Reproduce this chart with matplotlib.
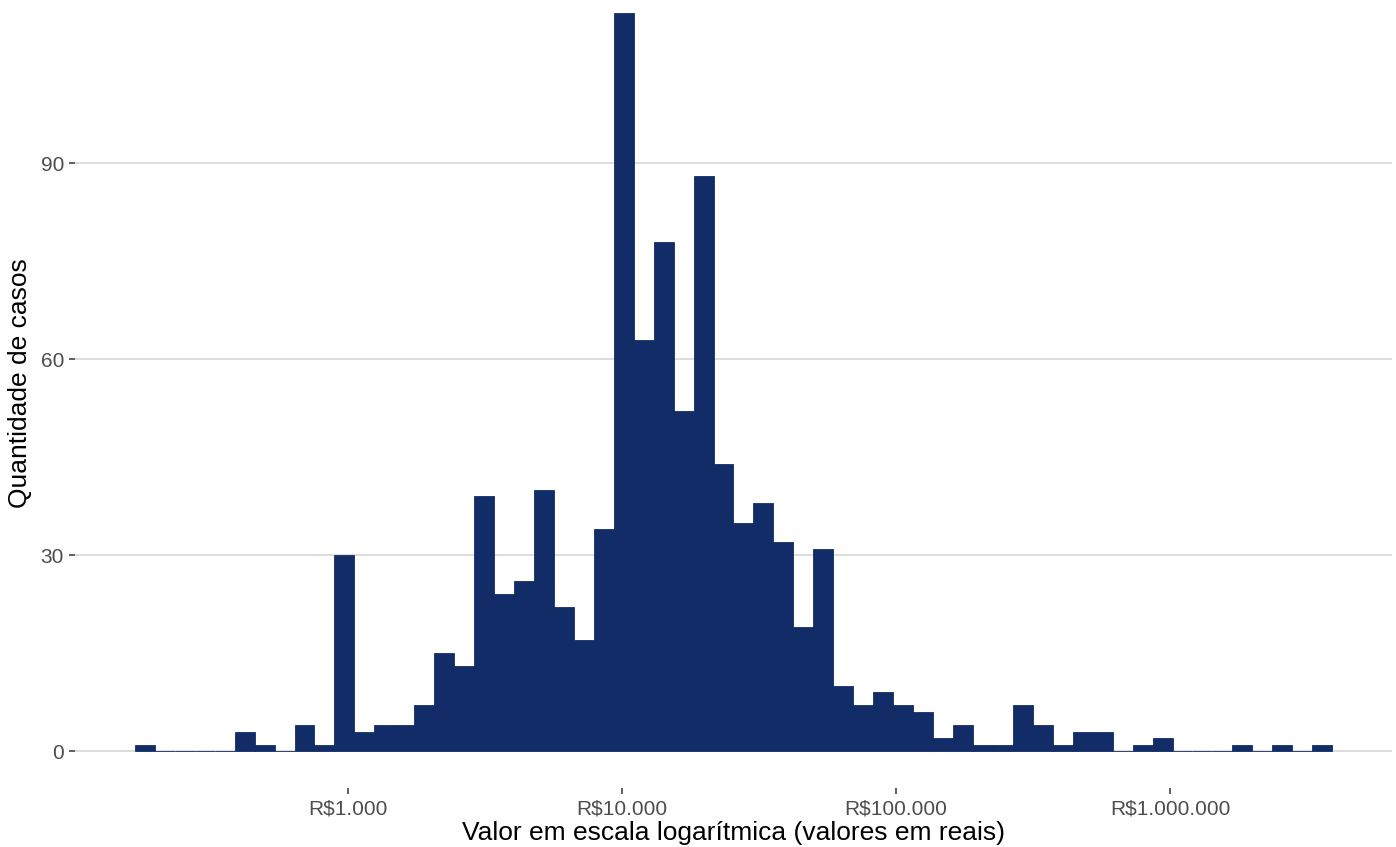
import numpy as np
import matplotlib
matplotlib.use("Agg")
import matplotlib.pyplot as plt
from matplotlib.ticker import FixedLocator, FuncFormatter, NullLocator

# ---- data ----
log10_low = 2.2226    # left edge of first bin (log10 of R$)
log10_high = 6.5912   # right edge of last bin (log10 of R$)
counts = [1, 0, 0, 0, 0, 3, 1, 0, 4, 1,
          30, 3, 4, 4, 7, 15, 13, 39, 24, 26,
          40, 22, 17, 34, 113, 63, 78, 52, 88, 44,
          35, 38, 32, 19, 31, 10, 7, 9, 7, 6,
          2, 4, 1, 1, 7, 4, 1, 3, 3, 0,
          1, 2, 0, 0, 0, 1, 0, 1, 0, 1]
x_ticks = [1e3, 1e4, 1e5, 1e6]
y_ticks = [0, 30, 60, 90]
x_title = "Valor em escala logarítmica (valores em reais)"
y_title = "Quantidade de casos"

BAR = "#112C66"
GRID = "#D9D9D9"

plt.rcParams['font.family'] = ['Liberation Sans', 'DejaVu Sans']

W, H = 1396, 847
fig = plt.figure(figsize=(W / 100, H / 100), dpi=100)

# panel in pixel coordinates
px_left, px_right, px_bottom = 75, 1392, 788
ymin, ymax = -5.65, 113 * 1.05
px_per_unit = 6.531
px_top = px_bottom - (ymax - ymin) * px_per_unit
ax = fig.add_axes([px_left / W, 1 - px_bottom / H,
                   (px_right - px_left) / W, (px_bottom - px_top) / H])

edges_log = np.linspace(log10_low, log10_high, len(counts) + 1)
edges = 10 ** edges_log
ax.set_xscale("log")
ax.bar(edges[:-1], counts, width=np.diff(edges), align="edge",
       color=BAR, edgecolor=BAR, linewidth=0.6, zorder=3)

span = log10_high - log10_low
ax.set_xlim(10 ** (log10_low - 0.05 * span), 10 ** (log10_high + 0.05 * span))
ax.set_ylim(ymin, ymax)

ax.xaxis.set_major_locator(FixedLocator(x_ticks))
ax.xaxis.set_minor_locator(NullLocator())
ax.xaxis.set_major_formatter(FuncFormatter(lambda v, p: "R$" + f"{int(round(v)):,}".replace(",", ".")))
ax.set_yticks(y_ticks)

for s in ax.spines.values():
    s.set_visible(False)

ax.yaxis.grid(True, color=GRID, linewidth=1.3, zorder=0)
ax.xaxis.grid(False)
ax.set_axisbelow(True)

ax.tick_params(axis="both", which="major", length=4, width=1.1, color="#333333",
               labelsize=15, labelcolor="#4D4D4D", pad=4)

fig.text(20 / W, 1 - 383 / H, y_title, rotation=90, ha="center", va="center",
         fontsize=19, color="black")
fig.text(733.5 / W, 1 - 833 / H, x_title, ha="center", va="center",
         fontsize=19, color="black")

fig.savefig("out.png", dpi=100, facecolor="white")
